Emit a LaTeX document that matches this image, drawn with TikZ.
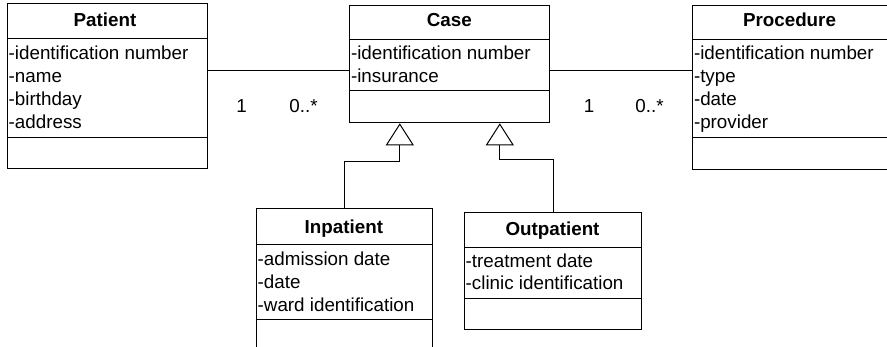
\documentclass[tikz,border=0pt]{standalone}
\usepackage{fontspec}
\setmainfont{Liberation Sans}
\usetikzlibrary{arrows.meta}
\begin{document}
\begin{tikzpicture}[x=1pt,y=-1pt,line width=1pt,
  cls/.style={draw,inner sep=0pt,anchor=north west,line width=1pt},
  ttl/.style={font=\fontsize{18.8}{22}\selectfont\bfseries,anchor=base,inner sep=0pt},
  attr/.style={font=\fontsize{18.8}{22}\selectfont,anchor=base west,inner sep=0pt},
  mult/.style={font=\fontsize{18.8}{22}\selectfont,anchor=base,inner sep=0pt},
  gen/.style={-{Triangle[open,length=22pt,width=28pt,line width=1pt]}}]
\path[use as bounding box,clip] (0,0) rectangle (887,347);
\coordinate (assocY) at (0,70.5);

% Patient
\node[cls,minimum width=199.7pt,minimum height=164.2pt] (patient) at (7,3.5) {};
\draw (7,38.7) -- (206.7,38.7);
\draw (7,137.7) -- (206.7,137.7);
\node[ttl] (patient-t) at (105,26.7) {Patient};
\node[attr] (patient-a1) at (8.2,59.3) {-identification number};
\node[attr] (patient-a2) at (8.2,82.3) {-name};
\node[attr] (patient-a3) at (8.2,105.3) {-birthday};
\node[attr] (patient-a4) at (8.2,128.3) {-address};

% Case
\node[cls,minimum width=200pt,minimum height=117.6pt] (case) at (349.3,4.7) {};
\draw (349.3,39.3) -- (549.3,39.3);
\draw (349.3,90.7) -- (549.3,90.7);
\node[ttl] (case-t) at (449.3,26.7) {Case};
\node[attr] (case-a1) at (350.5,60) {-identification number};
\node[attr] (case-a2) at (350.5,83) {-insurance};

% Procedure
\node[cls,minimum width=200pt,minimum height=164.3pt] (proc) at (692.3,4.7) {};
\draw (692.3,39.3) -- (892.3,39.3);
\draw (692.3,137.7) -- (892.3,137.7);
\node[ttl] (proc-t) at (789.5,26.7) {Procedure};
\node[attr] (proc-a1) at (693.5,59.3) {-identification number};
\node[attr] (proc-a2) at (693.5,82.3) {-type};
\node[attr] (proc-a3) at (693.5,105.3) {-date};
\node[attr] (proc-a4) at (693.5,128.3) {-provider};

% Inpatient
\node[cls,minimum width=175.7pt,minimum height=150pt] (inpat) at (256,208.3) {};
\draw (256,245) -- (431.7,245);
\draw (256,320) -- (431.7,320);
\node[ttl] (inpat-t) at (343.9,233.3) {Inpatient};
\node[attr] (inpat-a1) at (257.2,266) {-admission date};
\node[attr] (inpat-a2) at (257.2,289) {-date};
\node[attr] (inpat-a3) at (257.2,312) {-ward identification};

% Outpatient
\node[cls,minimum width=177pt,minimum height=117pt] (outpat) at (464,212.3) {};
\draw (464,247.7) -- (641,247.7);
\draw (464,299) -- (641,299);
\node[ttl] (outpat-t) at (552.5,236) {Outpatient};
\node[attr] (outpat-a1) at (465.2,267.3) {-treatment date};
\node[attr] (outpat-a2) at (465.2,289.3) {-clinic identification};

% Associations
\draw (patient.east |- assocY) -- (case.west |- assocY);
\draw (case.east |- assocY) -- (proc.west |- assocY);
\node[mult] (m1) at (241.5,112.3) {1};
\node[mult] (m2) at (303.5,112.3) {0..*};
\node[mult] (m3) at (589,112.3) {1};
\node[mult] (m4) at (649.5,112.3) {0..*};

% Generalizations
\draw[gen] (inpat.north) -- ++(0,-46.6) -| ([xshift=-50pt]case.south);
\draw[gen] (outpat.north) -- ++(0,-52.3) -| ([xshift=50pt]case.south);
\end{tikzpicture}
\end{document}
